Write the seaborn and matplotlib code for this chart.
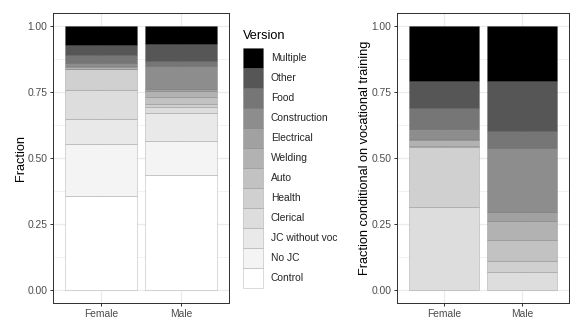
import numpy as np
import pandas as pd
import matplotlib
matplotlib.use("Agg")
import matplotlib.pyplot as plt
from matplotlib.patches import Patch
from matplotlib.ticker import MultipleLocator
import seaborn as sns

# ---------------- data ----------------
sexes = ["Female", "Male"]
versions_all = ["Control", "No JC", "JC without voc", "Clerical", "Health", "Auto",
                "Welding", "Electrical", "Construction", "Food", "Other", "Multiple"]
female_all = [0.356, 0.197, 0.096, 0.110, 0.078, 0.002, 0.008, 0.002, 0.013, 0.027, 0.038, 0.073]
male_all = [0.434, 0.130, 0.107, 0.021, 0.013, 0.025, 0.023, 0.010, 0.086, 0.019, 0.064, 0.068]

versions_voc = ["Clerical", "Health", "Auto", "Welding", "Electrical", "Construction",
                "Food", "Other", "Multiple"]
female_voc = [0.315, 0.225, 0.005, 0.022, 0.006, 0.038, 0.077, 0.104, 0.208]
male_voc = [0.069, 0.039, 0.080, 0.072, 0.034, 0.245, 0.062, 0.190, 0.209]

grey_levels = ["#ffffff", "#f4f4f4", "#e9e9e9", "#dddddd", "#d0d0d0", "#c2c2c2",
               "#b2b2b2", "#a1a1a1", "#8d8d8d", "#767676", "#565656", "#000000"]
pal = dict(zip(versions_all, grey_levels))

df_all = pd.DataFrame({
    "sex": np.repeat(sexes, len(versions_all)),
    "version": versions_all * 2,
    "frac": female_all + male_all,
})
df_voc = pd.DataFrame({
    "sex": np.repeat(sexes, len(versions_voc)),
    "version": versions_voc * 2,
    "frac": female_voc + male_voc,
})

# ---------------- style ----------------
sns.set_theme(style="white")
plt.rcParams["font.family"] = ["Liberation Sans", "DejaVu Sans"]

W, H = 581, 332
fig = plt.figure(figsize=(W / 72, H / 72), dpi=72)
ax1 = fig.add_axes([53.3 / W, 29 / H, 176 / W, 290 / H])
ax2 = fig.add_axes([397.3 / W, 29 / H, 171.7 / W, 290 / H])

EDGE = (0, 0, 0, 0.2)
TXT = 10.2
TITLE = 12.7


def panel(ax, df, order, ylabel):
    sns.histplot(data=df, x="sex", hue="version", weights="frac", multiple="stack",
                 discrete=True, shrink=0.9, hue_order=order[::-1], palette=pal,
                 alpha=1, linewidth=0.7, legend=False, ax=ax)
    for p in ax.patches:
        p.set_alpha(None)
        p.set_edgecolor(EDGE)
        p.set_linewidth(0.7)
    ax.set_xlim(-0.6, 1.6)
    ax.set_ylim(-0.05, 1.05)
    ax.set_xticks([0, 1])
    ax.set_xticklabels(sexes)
    ax.set_yticks([0, 0.25, 0.5, 0.75, 1.0])
    ax.set_yticklabels(["0.00", "0.25", "0.50", "0.75", "1.00"])
    ax.yaxis.set_minor_locator(MultipleLocator(0.125))
    ax.set_axisbelow(True)
    ax.grid(True, which="major", color="#ebebeb", linewidth=1.2)
    ax.grid(True, which="minor", axis="y", color="#ebebeb", linewidth=0.6)
    for s in ax.spines.values():
        s.set_color("#333333")
        s.set_linewidth(1.0)
    ax.tick_params(axis="both", which="major", length=3.2, width=1.0, color="#333333",
                   labelcolor="#4d4d4d", labelsize=TXT, pad=2.5,
                   bottom=True, left=True)
    ax.tick_params(axis="both", which="minor", length=0)
    ax.set_xlabel("")
    ax.set_ylabel(ylabel, fontsize=TITLE, color="black", labelpad=1.0)


panel(ax1, df_all, versions_all, "Fraction")
panel(ax2, df_voc, versions_voc, "Fraction conditional on vocational training")

# legend
leg_order = versions_all[::-1]
handles = [Patch(facecolor=pal[v], edgecolor=EDGE, linewidth=0.7) for v in leg_order]
key = 20.0
hh = (key / TXT - 0.245) / 0.65
fig.text(243 / W, 1 - 36 / H, "Version", fontsize=TITLE, color="black",
         ha="left", va="center")
fig.legend(handles, leg_order, loc="upper left", bbox_to_anchor=(243.3 / W, 1 - 48 / H),
           frameon=False, fontsize=TXT,
           handlelength=key / TXT, handleheight=hh, labelspacing=0,
           handletextpad=7.4 / TXT, borderpad=0, borderaxespad=0)

fig.savefig("out.png", dpi=72)
